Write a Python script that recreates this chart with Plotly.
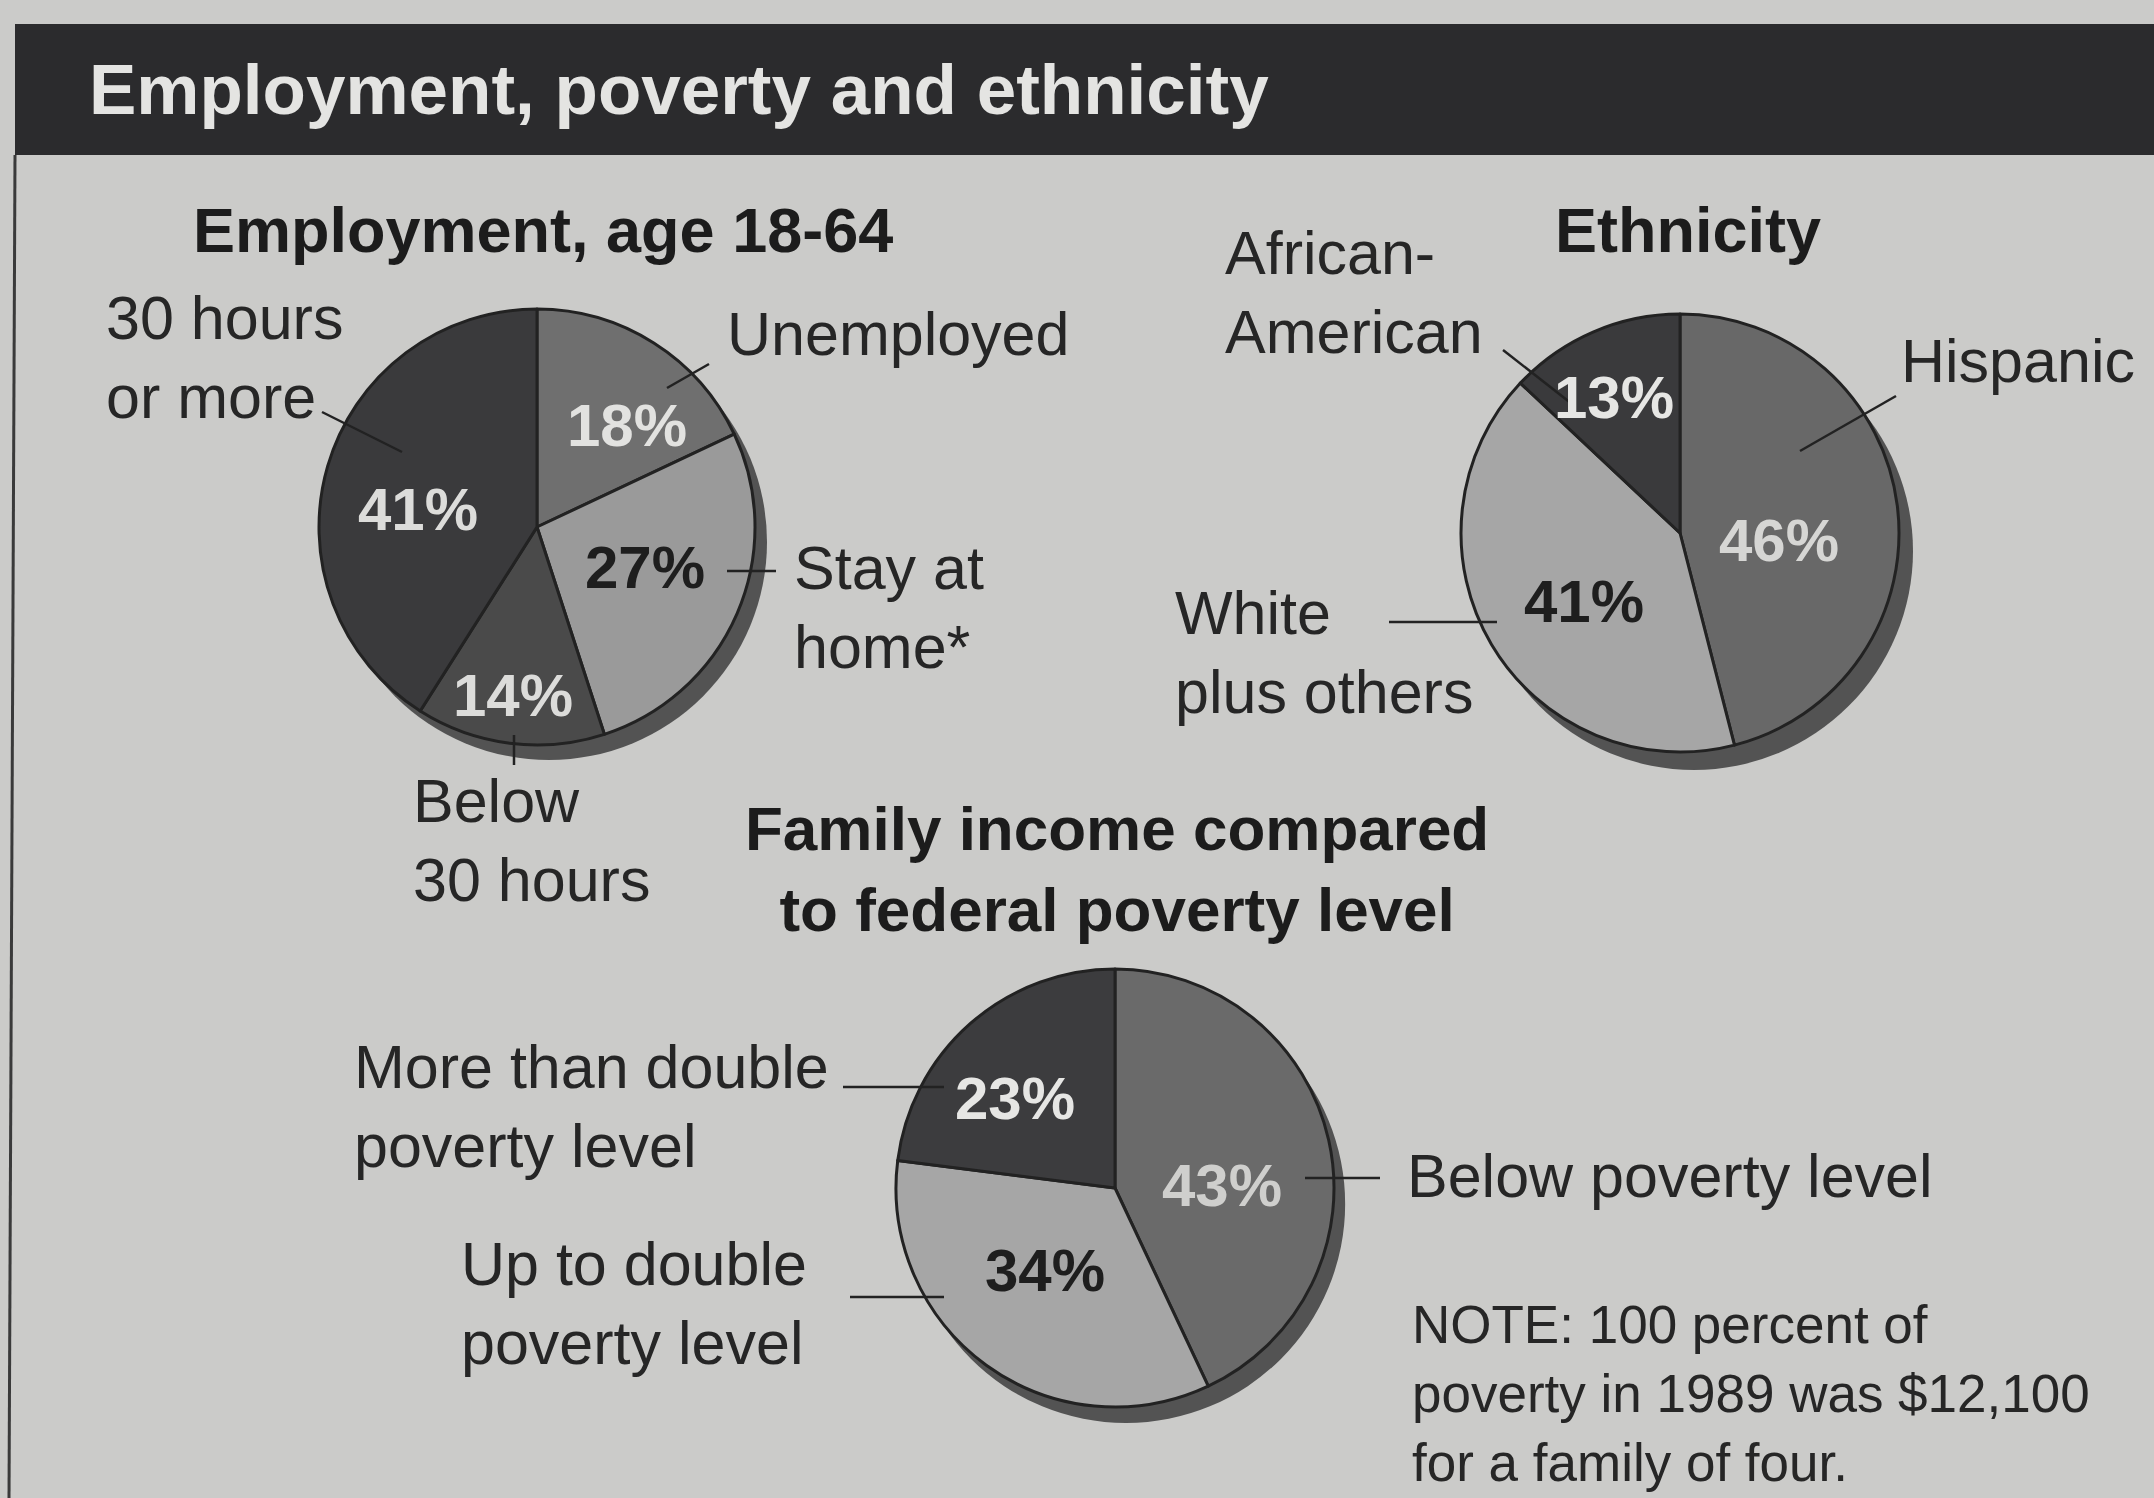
import plotly.graph_objects as go

# ---------------- data ----------------
emp_labels = ["Unemployed", "Stay at home*", "Below 30 hours", "30 hours or more"]
emp_values = [18, 27, 14, 41]

eth_labels = ["Hispanic", "White plus others", "African-American"]
eth_values = [46, 41, 13]

inc_labels = ["Below poverty level", "Up to double poverty level", "More than double poverty level"]
inc_values = [43, 34, 23]

title_text = "Employment, poverty and ethnicity"
emp_title = "Employment, age 18-64"
eth_title = "Ethnicity"
inc_title = ["Family income compared", "to federal poverty level"]
note_lines = ["NOTE: 100 percent of", "poverty in 1989 was $12,100", "for a family of four."]

# ---------------- layout helpers ----------------
W, H = 2154, 1498
FONT = "Liberation Sans, Arial, Helvetica, sans-serif"
BG = "#cbcbc9"
INK = "#222222"


def dom(cx, cy, r):
    return dict(x=[(cx - r) / W, (cx + r) / W], y=[1 - (cy + r) / H, 1 - (cy - r) / H])


fig = go.Figure()

pies = [
    dict(labels=emp_labels, values=emp_values, c=(537, 527), r=218, sh=(12, 15),
         colors=["#6f6f6f", "#9a9a9a", "#4a4a4a", "#3a3a3c"]),
    dict(labels=eth_labels, values=eth_values, c=(1680, 533), r=219, sh=(14, 18),
         colors=["#686868", "#a6a6a6", "#3a3a3c"]),
    dict(labels=inc_labels, values=inc_values, c=(1115, 1188), r=219, sh=(11, 16),
         colors=["#6a6a6a", "#a6a6a6", "#3c3c3e"]),
]

for p in pies:
    cx, cy = p["c"]
    # drop shadow
    fig.add_trace(go.Pie(values=[1], labels=["shadow"], domain=dom(cx + p["sh"][0], cy + p["sh"][1], p["r"]),
                         marker=dict(colors=["#535353"], line=dict(width=0)),
                         textinfo="none", hoverinfo="skip", showlegend=False, sort=False))
    fig.add_trace(go.Pie(values=p["values"], labels=p["labels"], domain=dom(cx, cy, p["r"]),
                         marker=dict(colors=p["colors"], line=dict(color=INK, width=3)),
                         direction="clockwise", rotation=0, sort=False,
                         textinfo="none", showlegend=False))

annotations = []


def txt(x, baselines, lines, size=61, bold=False, color="#262626", anchor="left"):
    """Place a (possibly multi-line) text block; baselines are the reference baselines."""
    if isinstance(lines, str):
        lines = [lines]
        baselines = [baselines]
    mean_b = sum(baselines) / len(baselines)
    annotations.append(dict(
        x=x / W, y=1 - (mean_b - 0.3465 * size) / H, xref="paper", yref="paper",
        text="<br>".join(lines), showarrow=False, xanchor=anchor, yanchor="middle",
        align=anchor if anchor != "center" else "center", borderpad=0,
        font=dict(family=FONT, size=size, color=color, weight="bold" if bold else "normal"),
    ))


def pct(x, y, value, color):
    annotations.append(dict(
        x=x / W, y=1 - y / H, xref="paper", yref="paper",
        text=f"{value}%", showarrow=False, xanchor="center", yanchor="middle",
        font=dict(family=FONT, size=60, color=color, weight="bold"),
    ))


# header + titles
txt(88, 114, title_text, size=71, bold=True, color="#e4e4e2")
txt(192, 252, emp_title, size=63, bold=True, color="#1c1c1c")
txt(1554, 252, eth_title, size=63, bold=True, color="#1c1c1c")
txt(1117, [860, 920], inc_title, size=62, bold=True, color="#1c1c1c", anchor="center")

# employment labels
txt(105, [348, 410], ["30 hours", "or more"])
txt(726, 355, emp_labels[0])
txt(793, [600, 658], ["Stay at", "home*"])
txt(412, [826, 897], ["Below", "30 hours"])

# ethnicity labels
txt(1224, [283, 345], ["African-", "American"])
txt(1900, 382, eth_labels[0])
txt(1174, [645, 703], ["White", "plus others"])

# income labels
txt(353, [1098, 1158], ["More than double", "poverty level"])
txt(460, [1295, 1355], ["Up to double", "poverty level"])
txt(1406, 1197, inc_labels[0])
txt(1411, [1357, 1412, 1467], note_lines, size=53)

# percentage labels
emp_pos = [(627, 425, "#e2e2e0"), (645, 567, "#1e1e1e"), (513, 695, "#dcdcda"), (418, 510, "#dcdcda")]
for v, (x, y, c) in zip(emp_values, emp_pos):
    pct(x, y, v, c)
eth_pos = [(1779, 540, "#d6d6d4"), (1584, 602, "#1e1e1e"), (1614, 397, "#e6e6e4")]
for v, (x, y, c) in zip(eth_values, eth_pos):
    pct(x, y, v, c)
inc_pos = [(1222, 1185, "#cfcfcd"), (1045, 1270, "#1e1e1e"), (1015, 1098, "#e6e6e4")]
for v, (x, y, c) in zip(inc_values, inc_pos):
    pct(x, y, v, c)

# shapes: header bar, frame line, leader lines
shapes = [
    dict(type="rect", xref="paper", yref="paper", x0=15 / W, x1=1, y0=1 - 155 / H, y1=1 - 24 / H,
         fillcolor="#2b2b2d", line=dict(width=0), layer="below"),
    dict(type="line", xref="paper", yref="paper", x0=15 / W, y0=1 - 155 / H, x1=9 / W, y1=0,
         line=dict(color="#3a3a3a", width=3)),
]
leaders = [
    (322, 412, 402, 452), (709, 364, 667, 388), (727, 571, 776, 571), (514, 735, 514, 765),
    (1503, 350, 1572, 404), (1896, 396, 1800, 451), (1389, 622, 1497, 622),
    (843, 1087, 944, 1087), (850, 1297, 944, 1297), (1305, 1178, 1380, 1178),
]
for x0, y0, x1, y1 in leaders:
    shapes.append(dict(type="line", xref="paper", yref="paper",
                       x0=x0 / W, y0=1 - y0 / H, x1=x1 / W, y1=1 - y1 / H,
                       line=dict(color=INK, width=2.5)))

fig.update_layout(
    width=W, height=H, margin=dict(l=0, r=0, t=0, b=0),
    paper_bgcolor=BG, plot_bgcolor=BG,
    showlegend=False, annotations=annotations, shapes=shapes,
    font=dict(family=FONT),
)

fig.write_html("out.html")
